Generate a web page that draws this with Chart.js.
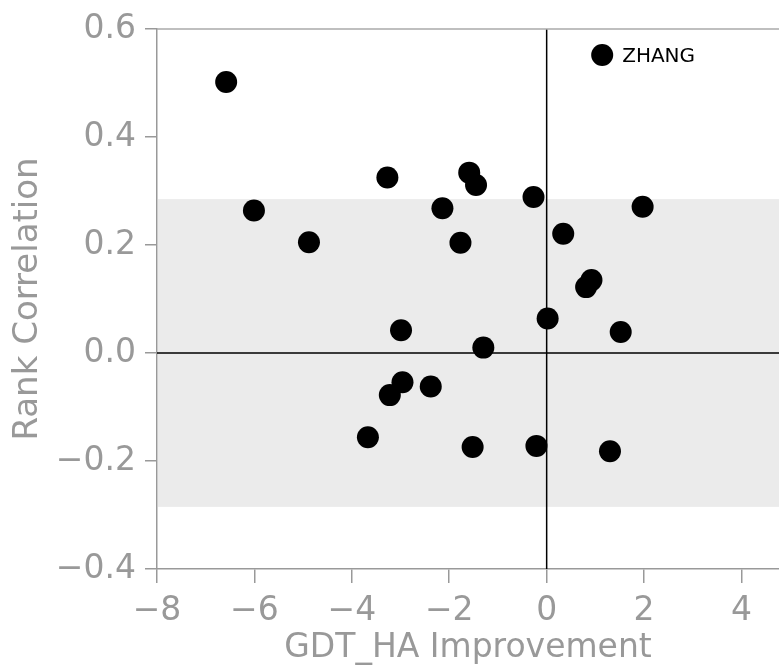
<!DOCTYPE html>
<html>
<head>
<meta charset="utf-8">
<script src="https://cdn.jsdelivr.net/npm/chart.js@4"></script>
<style>
  html, body { margin: 0; padding: 0; background: #fff; }
  #wrap { width: 779px; height: 671px; }
</style>
</head>
<body>
<div id="wrap"><canvas id="scatter" width="779" height="671"></canvas></div>
<script>
// Data
const improvement = [-6.58, -6.01, -4.88, -3.27, -3.67, -3.22, -2.99, -2.96, -2.38, -2.14,
                     -1.77, -1.59, -1.45, -1.52, -1.30, -0.27, -0.21, 0.02, 0.34, 0.81,
                     0.92, 1.14, 1.30, 1.52, 1.97];
const rankCorr = [0.502, 0.264, 0.205, 0.325, -0.156, -0.078, 0.042, -0.054, -0.062, 0.268,
                  0.204, 0.334, 0.311, -0.174, 0.010, 0.289, -0.172, 0.064, 0.221, 0.122,
                  0.135, 0.552, -0.182, 0.039, 0.271];
const pointLabels = ['', '', '', '', '', '', '', '', '', '', '', '', '', '', '', '', '', '', '', '',
                     '', 'ZHANG', '', '', ''];
const xTicks = [-8, -6, -4, -2, 0, 2, 4];
const yTicks = [-0.4, -0.2, 0.0, 0.2, 0.4, 0.6];
const bandLimit = 0.285; // shaded band, +/- this value

const FONT = '"DejaVu Sans", sans-serif';
const GREY = '#999999';

// minus sign like matplotlib
function fmt(v, digits) {
  const s = Math.abs(v).toFixed(digits);
  return v < -1e-9 ? '\u2212' + s : s;
}

// grey band, zero lines and the top frame line
const backdrop = {
  id: 'backdrop',
  beforeDatasetsDraw(chart) {
    const { ctx, chartArea: a, scales: { x, y } } = chart;
    ctx.save();
    const top = y.getPixelForValue(bandLimit);
    const bot = y.getPixelForValue(-bandLimit);
    ctx.fillStyle = '#ebebeb';
    ctx.fillRect(a.left + 1, top, a.right - a.left, bot - top);

    ctx.strokeStyle = '#000';
    ctx.lineWidth = 1.5;
    const x0 = x.getPixelForValue(0);
    const y0 = y.getPixelForValue(0);
    ctx.beginPath();
    ctx.moveTo(x0, a.top);
    ctx.lineTo(x0, a.bottom);
    ctx.moveTo(a.left, y0);
    ctx.lineTo(a.right, y0);
    ctx.stroke();

    ctx.strokeStyle = '#aaaaaa';
    ctx.beginPath();
    ctx.moveTo(a.left, a.top);
    ctx.lineTo(a.right, a.top);
    ctx.stroke();
    ctx.restore();
  }
};

// text next to labelled points
const labeller = {
  id: 'labeller',
  afterDatasetsDraw(chart) {
    const { ctx } = chart;
    const meta = chart.getDatasetMeta(0);
    ctx.save();
    ctx.font = '20px ' + FONT;
    ctx.fillStyle = '#000';
    ctx.textAlign = 'left';
    ctx.textBaseline = 'middle';
    meta.data.forEach((pt, i) => {
      if (pointLabels[i]) ctx.fillText(pointLabels[i], pt.x + 20, pt.y + 2);
    });
    ctx.restore();
  }
};

const ctx = document.getElementById('scatter').getContext('2d');
new Chart(ctx, {
  type: 'scatter',
  data: {
    datasets: [{
      data: improvement.map((v, i) => ({ x: v, y: rankCorr[i] })),
      backgroundColor: '#000',
      borderWidth: 0,
      pointRadius: 11,
      pointHoverRadius: 11
    }]
  },
  options: {
    responsive: false,
    animation: false,
    layout: { autoPadding: false, padding: { top: 29, left: 0, right: 0, bottom: 0 } },
    plugins: { legend: { display: false }, tooltip: { enabled: false } },
    scales: {
      x: {
        type: 'linear',
        min: -8,
        max: 4.77,
        afterBuildTicks: s => { s.ticks = xTicks.map(v => ({ value: v })); },
        afterFit: s => { s.height = 102; s.paddingRight = 0; },
        ticks: {
          font: { family: FONT, size: 33 },
          color: GREY,
          padding: 9,
          maxRotation: 0,
          callback: v => fmt(v, 0)
        },
        grid: { drawOnChartArea: false, drawTicks: true, tickLength: 14, color: GREY, lineWidth: 1.5 },
        border: { color: GREY, width: 1.5 },
        title: {
          display: true,
          text: 'GDT_HA Improvement',
          color: GREY,
          font: { family: FONT, size: 33 },
          padding: { top: 0, bottom: 3 }
        }
      },
      y: {
        type: 'linear',
        min: -0.4,
        max: 0.6,
        afterBuildTicks: s => { s.ticks = yTicks.map(v => ({ value: v })); },
        afterFit: s => { s.width = 157; },
        ticks: {
          font: { family: FONT, size: 33 },
          color: GREY,
          padding: 9,
          callback: v => fmt(v, 1)
        },
        grid: { drawOnChartArea: false, drawTicks: true, tickLength: 12, color: GREY, lineWidth: 1.5 },
        border: { color: GREY, width: 1.5 },
        title: {
          display: true,
          text: 'Rank Correlation',
          color: GREY,
          font: { family: FONT, size: 34 },
          padding: { top: 8, bottom: 0 }
        }
      }
    }
  },
  plugins: [backdrop, labeller]
});
</script>
</body>
</html>
